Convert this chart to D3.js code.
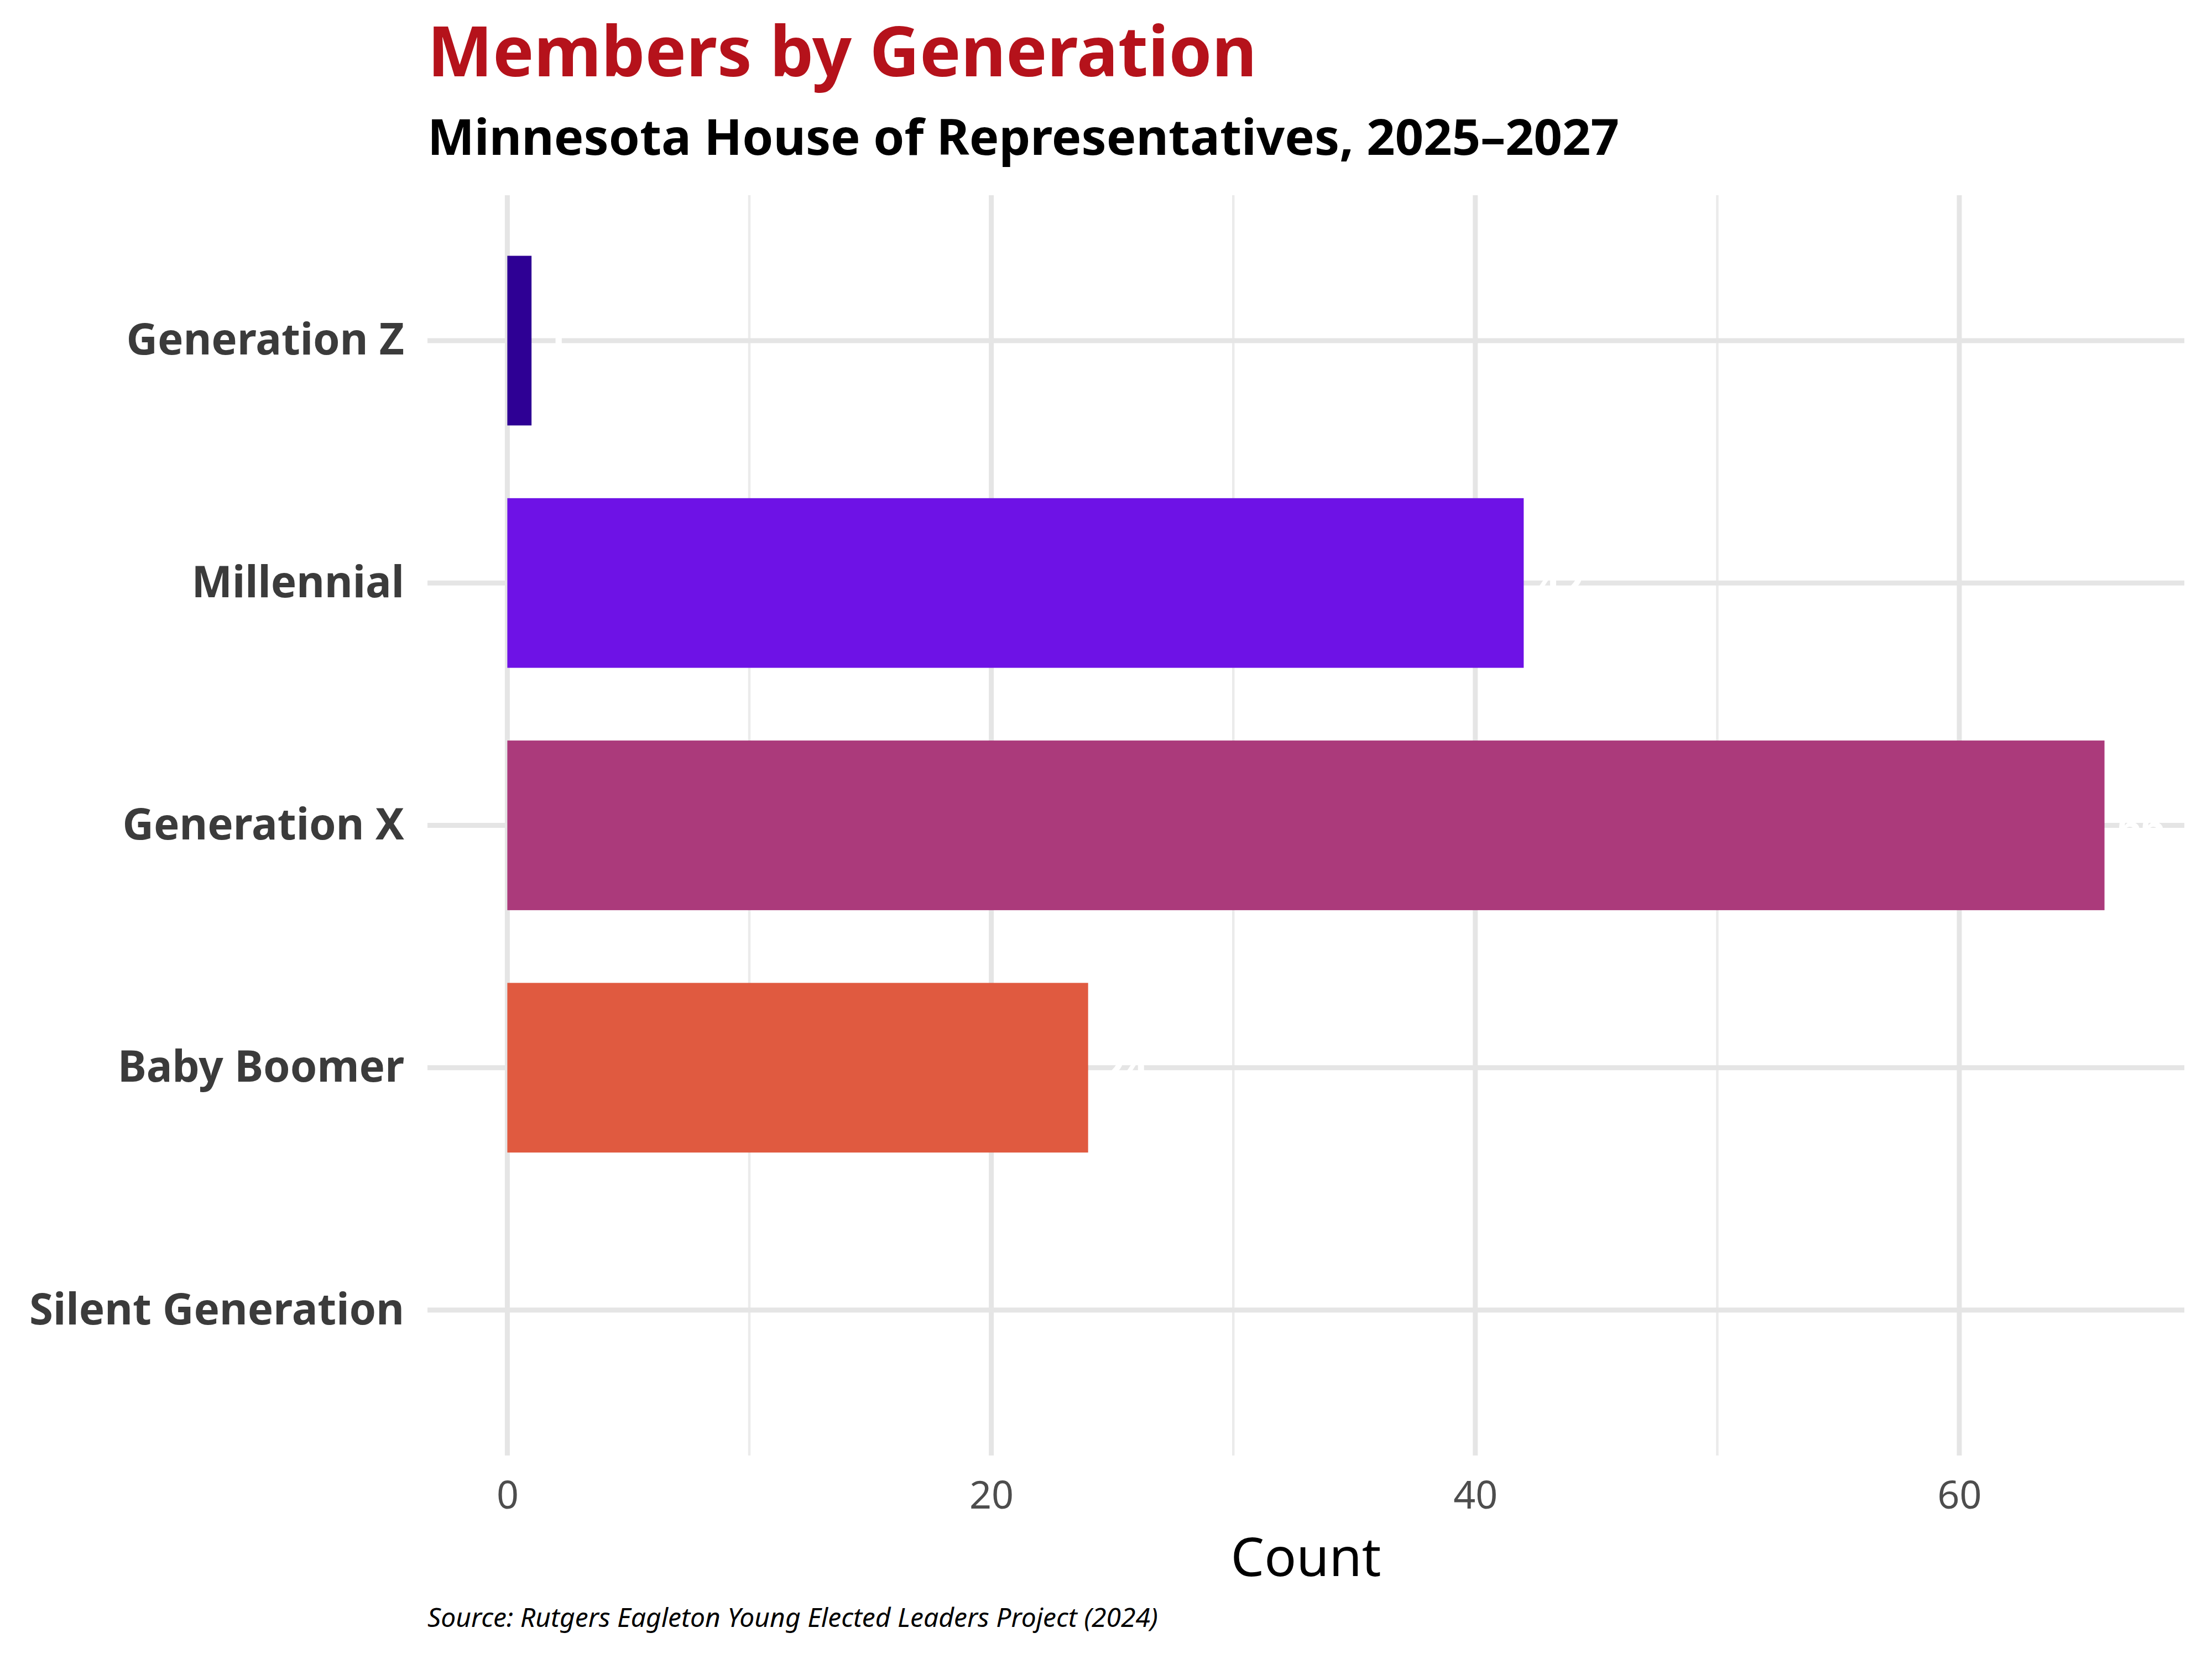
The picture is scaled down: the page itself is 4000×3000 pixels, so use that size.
<!DOCTYPE html>
<html>
<head>
<meta charset="utf-8">
<script src="https://cdn.jsdelivr.net/npm/d3@7"></script>
<style>
  body { margin: 0; background: white; }
  text { font-family: "Noto Sans", "Open Sans", sans-serif; }
</style>
</head>
<body>
<div id="bar-chart"></div>
<script>
// Data
const generations = ['Generation Z', 'Millennial', 'Generation X', 'Baby Boomer', 'Silent Generation'];
const counts = [1, 42, 66, 24, 0];
const barColors = ['#2e0094', '#6e12e6', '#ab3a7b', '#e05a40', '#f0a030'];
const majorTicks = [0, 20, 40, 60];
const minorTicks = [10, 30, 50];

const width = 4000, height = 3000;
const panel = { left: 773, right: 3950, top: 353, bottom: 2632 };

const svg = d3.select('#bar-chart')
  .append('svg')
  .attr('width', width)
  .attr('height', height)
  .style('background-color', 'white');

// Scales (5% expansion like ggplot)
const maxVal = d3.max(counts);
const xScale = d3.scaleLinear()
  .domain([-0.05 * maxVal, maxVal * 1.05])
  .range([panel.left, panel.right]);

const yScale = d3.scalePoint()
  .domain(generations)
  .range([panel.top, panel.bottom])
  .padding(0.6);

const step = yScale.step();
const barH = step * 0.7;

// Grid lines
svg.append('g')
  .selectAll('line')
  .data(minorTicks)
  .enter()
  .append('line')
  .attr('x1', d => xScale(d)).attr('x2', d => xScale(d))
  .attr('y1', panel.top).attr('y2', panel.bottom)
  .attr('stroke', '#ebebeb')
  .attr('stroke-width', 4.5);

svg.append('g')
  .selectAll('line')
  .data(majorTicks)
  .enter()
  .append('line')
  .attr('x1', d => xScale(d)).attr('x2', d => xScale(d))
  .attr('y1', panel.top).attr('y2', panel.bottom)
  .attr('stroke', '#e5e5e5')
  .attr('stroke-width', 9);

svg.append('g')
  .selectAll('line')
  .data(generations)
  .enter()
  .append('line')
  .attr('x1', panel.left).attr('x2', panel.right)
  .attr('y1', d => yScale(d)).attr('y2', d => yScale(d))
  .attr('stroke', '#e5e5e5')
  .attr('stroke-width', 9);

// Bars
const rows = generations.map((g, i) => ({ gen: g, value: counts[i], color: barColors[i] }));

svg.append('g')
  .selectAll('rect')
  .data(rows.filter(d => d.value > 0))
  .enter()
  .append('rect')
  .attr('x', xScale(0))
  .attr('y', d => yScale(d.gen) - barH / 2)
  .attr('width', d => xScale(d.value) - xScale(0))
  .attr('height', barH)
  .attr('fill', d => d.color);

// White value labels (only visible where they cross the grid)
svg.append('g')
  .selectAll('text')
  .data(rows.filter(d => d.value > 0))
  .enter()
  .append('text')
  .attr('x', d => xScale(d.value) + 24)
  .attr('y', d => yScale(d.gen))
  .attr('dominant-baseline', 'central')
  .attr('fill', 'white')
  .attr('font-size', '74px')
  .attr('font-weight', 'bold')
  .text(d => d.value);

// X axis
const xAxis = svg.append('g')
  .attr('transform', `translate(0, ${panel.bottom + 40})`)
  .call(d3.axisBottom(xScale).tickValues(majorTicks).tickSize(0).tickFormat(d3.format('d')));
xAxis.select('.domain').remove();
xAxis.selectAll('text')
  .attr('font-size', '70px')
  .attr('fill', '#4d4d4d')
  .attr('dy', '0.71em')
  .attr('y', 6)
  .style('font-family', '"Noto Sans", sans-serif');

// Y axis labels
const yAxis = svg.append('g')
  .attr('transform', `translate(${panel.left}, 0)`)
  .call(d3.axisLeft(yScale).tickSize(0).tickPadding(42));
yAxis.select('.domain').remove();
yAxis.selectAll('text')
  .attr('font-size', '78px')
  .attr('font-weight', 'bold')
  .attr('fill', '#3b3b3b')
  .style('font-family', '"Noto Sans", sans-serif');

// X axis title
svg.append('text')
  .attr('x', (panel.left + panel.right) / 2)
  .attr('y', 2850)
  .attr('text-anchor', 'middle')
  .attr('font-size', '96px')
  .attr('fill', 'black')
  .text('Count');

// Title and subtitle
svg.append('text')
  .attr('x', panel.left)
  .attr('y', 138)
  .attr('font-size', '125px')
  .attr('font-weight', 'bold')
  .attr('fill', '#b5121b')
  .text('Members by Generation');

svg.append('text')
  .attr('x', panel.left)
  .attr('y', 280)
  .attr('font-size', '90px')
  .attr('font-weight', 'bold')
  .attr('fill', 'black')
  .text('Minnesota House of Representatives, 2025–2027');

// Source caption
svg.append('text')
  .attr('x', panel.left)
  .attr('y', 2942)
  .attr('font-size', '48px')
  .attr('font-style', 'italic')
  .attr('fill', 'black')
  .text('Source: Rutgers Eagleton Young Elected Leaders Project (2024)');
</script>
</body>
</html>
